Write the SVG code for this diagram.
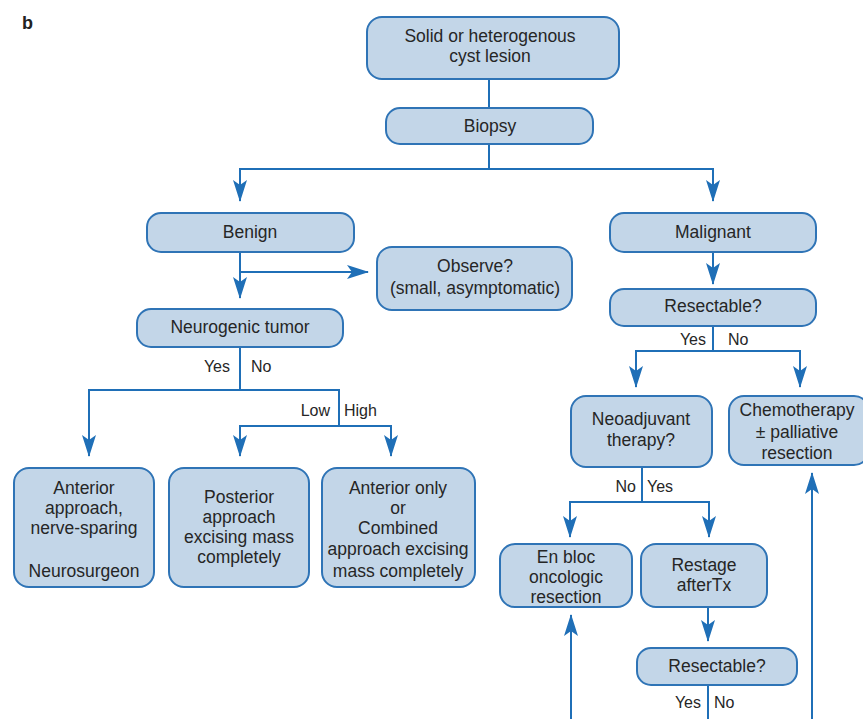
<svg xmlns="http://www.w3.org/2000/svg" width="863" height="719" viewBox="0 0 863 719">
<defs>
<style>
.box{fill:#c3d6e8;stroke:#2f74b6;stroke-width:2}
.t{font-family:"Liberation Sans",Arial,sans-serif;font-size:17.5px;fill:#262626;text-anchor:middle}
.l{font-family:"Liberation Sans",Arial,sans-serif;font-size:16px;fill:#262626}
.c{fill:none;stroke:#1f6fb7;stroke-width:2}
</style>
<marker id="ah" markerUnits="userSpaceOnUse" markerWidth="22" markerHeight="14" refX="21" refY="7" orient="auto">
<path d="M0,0 L22,7 L0,14 L5,7 z" fill="#1f6fb7"/>
</marker>
</defs>
<rect width="863" height="719" fill="#fff"/>
<text x="22" y="29" style="font-family:'Liberation Sans',Arial,sans-serif;font-size:18px;font-weight:bold;fill:#222">b</text>

<g id="connectors">
<path class="c" d="M489,79 V108"/>
<path class="c" d="M489,144 V169"/>
<path class="c" d="M489,169 H240 V201" marker-end="url(#ah)"/>
<path class="c" d="M489,169 H713 V201" marker-end="url(#ah)"/>
<path class="c" d="M240,252 V298" marker-end="url(#ah)"/>
<path class="c" d="M240,272 H368" marker-end="url(#ah)"/>
<path class="c" d="M713,252 V284" marker-end="url(#ah)"/>
<path class="c" d="M240,347 V390 H89 V456" marker-end="url(#ah)"/>
<path class="c" d="M240,390 H339 V426 H240 V456" marker-end="url(#ah)"/>
<path class="c" d="M339,426 H391 V456" marker-end="url(#ah)"/>
<path class="c" d="M713,326 V351 H636 V387" marker-end="url(#ah)"/>
<path class="c" d="M713,351 H800 V387" marker-end="url(#ah)"/>
<path class="c" d="M642,467 V502 H570 V537" marker-end="url(#ah)"/>
<path class="c" d="M642,502 H709 V537" marker-end="url(#ah)"/>
<path class="c" d="M708,607 V641" marker-end="url(#ah)"/>
<path class="c" d="M708,685 V719"/>
<path class="c" d="M571,719 V615" marker-end="url(#ah)"/>
<path class="c" d="M812,719 V473" marker-end="url(#ah)"/>
</g>

<g id="edge-labels">
<text class="l" x="230" y="372" text-anchor="end">Yes</text>
<text class="l" x="251" y="372">No</text>
<text class="l" x="330" y="416" text-anchor="end">Low</text>
<text class="l" x="344" y="416">High</text>
<text class="l" x="706" y="345" text-anchor="end">Yes</text>
<text class="l" x="728" y="345">No</text>
<text class="l" x="636" y="492" text-anchor="end">No</text>
<text class="l" x="647" y="492">Yes</text>
<text class="l" x="701" y="708" text-anchor="end">Yes</text>
<text class="l" x="714" y="708">No</text>
</g>

<g id="n-solid"><rect class="box" x="367" y="17" width="252" height="62" rx="15"/>
<text class="t" x="490" y="42">Solid or heterogenous</text><text class="t" x="490" y="62">cyst lesion</text></g>
<g id="n-biopsy"><rect class="box" x="386" y="108" width="207" height="36" rx="14"/>
<text class="t" x="490" y="132">Biopsy</text></g>
<g id="n-benign"><rect class="box" x="147" y="213" width="207" height="39" rx="14"/>
<text class="t" x="250" y="238">Benign</text></g>
<g id="n-malignant"><rect class="box" x="610" y="213" width="206" height="39" rx="14"/>
<text class="t" x="713" y="238">Malignant</text></g>
<g id="n-observe"><rect class="box" x="377" y="247" width="195" height="63" rx="15"/>
<text class="t" x="475" y="272">Observe?</text><text class="t" x="475" y="294">(small, asymptomatic)</text></g>
<g id="n-neuro"><rect class="box" x="137" y="309" width="206" height="38" rx="14"/>
<text class="t" x="240" y="333">Neurogenic tumor</text></g>
<g id="n-ant"><rect class="box" x="14" y="468" width="140" height="119" rx="15"/>
<text class="t" x="84" y="494">Anterior</text><text class="t" x="84" y="514">approach,</text><text class="t" x="84" y="534">nerve-sparing</text><text class="t" x="84" y="577">Neurosurgeon</text></g>
<g id="n-post"><rect class="box" x="169" y="468" width="140" height="119" rx="15"/>
<text class="t" x="239" y="503">Posterior</text><text class="t" x="239" y="523">approach</text><text class="t" x="239" y="543">excising mass</text><text class="t" x="239" y="563">completely</text></g>
<g id="n-comb"><rect class="box" x="322" y="468" width="153" height="119" rx="15"/>
<text class="t" x="398" y="494">Anterior only</text><text class="t" x="398" y="514">or</text><text class="t" x="398" y="534">Combined</text><text class="t" x="398" y="555">approach excising</text><text class="t" x="398" y="577">mass completely</text></g>
<g id="n-resect1"><rect class="box" x="610" y="289" width="206" height="37" rx="14"/>
<text class="t" x="713" y="312">Resectable?</text></g>
<g id="n-neoadj"><rect class="box" x="571" y="396" width="141" height="71" rx="15"/>
<text class="t" x="641" y="425">Neoadjuvant</text><text class="t" x="641" y="446">therapy?</text></g>
<g id="n-chemo"><rect class="box" x="729" y="396" width="140" height="69" rx="15"/>
<text class="t" x="797" y="416">Chemotherapy</text><text class="t" x="797" y="438">± palliative</text><text class="t" x="797" y="459">resection</text></g>
<g id="n-enbloc"><rect class="box" x="500" y="544" width="132" height="63" rx="15"/>
<text class="t" x="566" y="563">En bloc</text><text class="t" x="566" y="583">oncologic</text><text class="t" x="566" y="603">resection</text></g>
<g id="n-restage"><rect class="box" x="641" y="544" width="126" height="63" rx="15"/>
<text class="t" x="704" y="571">Restage</text><text class="t" x="704" y="591">afterTx</text></g>
<g id="n-resect2"><rect class="box" x="637" y="648" width="160" height="37" rx="14"/>
<text class="t" x="717" y="672">Resectable?</text></g>
</svg>
